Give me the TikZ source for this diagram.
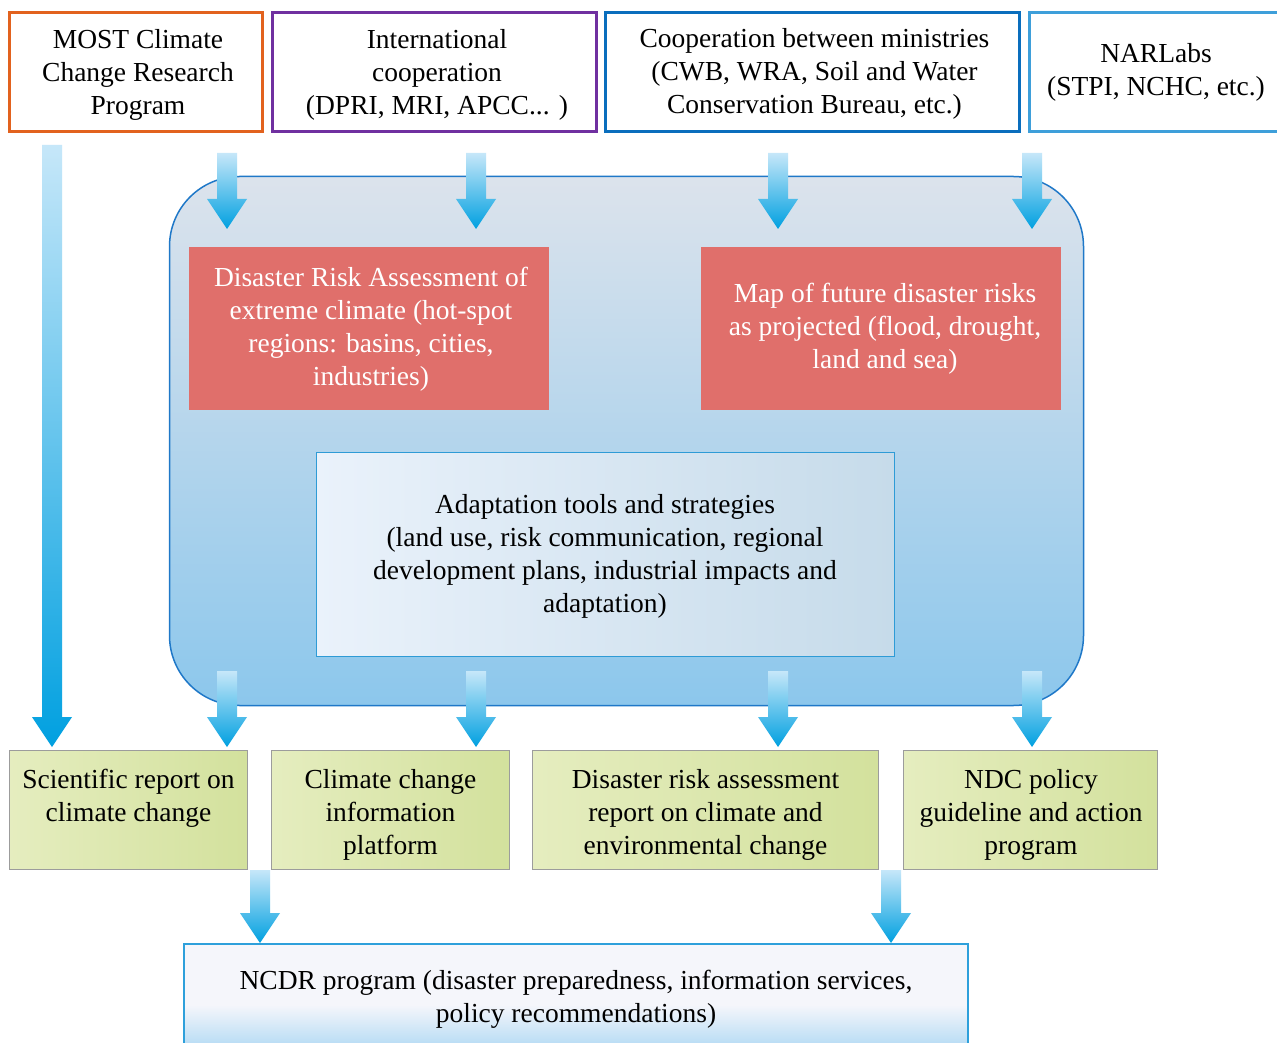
\documentclass[tikz,border=0pt]{standalone}
\usepackage{fontspec}
\setmainfont{Liberation Serif}
\usetikzlibrary{calc}

\definecolor{mostc}{HTML}{E2621E}
\definecolor{intlc}{HTML}{7030A0}
\definecolor{minc}{HTML}{0A6EBD}
\definecolor{narc}{HTML}{3E9FDA}
\definecolor{hubtop}{HTML}{DCE3EC}
\definecolor{hubmid}{HTML}{CADCEC}
\definecolor{hubbot}{HTML}{8CC7EC}
\definecolor{hubline}{HTML}{1F78C8}
\definecolor{riskfill}{HTML}{E06F6B}
\definecolor{adaptL}{HTML}{EAF2FB}
\definecolor{adaptR}{HTML}{C6DBEA}
\definecolor{adaptline}{HTML}{2E9BD6}
\definecolor{greenL}{HTML}{E5EDBF}
\definecolor{greenR}{HTML}{D3E19D}
\definecolor{greenline}{HTML}{9C9C9C}
\definecolor{ncdrtop}{HTML}{F5F6FB}
\definecolor{ncdrbot}{HTML}{B2DAF4}
\definecolor{ncdrline}{HTML}{2EA0DB}
\definecolor{arrlight}{HTML}{C6E7F9}
\definecolor{arrmid}{HTML}{A9DBF5}
\definecolor{arrdark}{HTML}{00A0E0}
\definecolor{longmid}{HTML}{72C3EE}

% pale top that turns blue only near the lower edge (25bp..75bp spans the node)
\pgfdeclareverticalshading{ncdrshade}{100bp}{color(0bp)=(ncdrbot); color(25bp)=(ncdrbot);
  color(46bp)=(ncdrtop); color(100bp)=(ncdrtop)}

% shaded block arrow from a start point down to a tip point
\newcommand\blockarrow[3][arrowfill]{%
  \shade[#1] let \p1=(#2), \p2=(#3) in
    (\x1-10pt,\y1) -- (\x1+10pt,\y1) -- (\x1+10pt,\y2+30pt) -- (\x1+20pt,\y2+30pt)
    -- (\x1,\y2) -- (\x1-20pt,\y2+30pt) -- (\x1-10pt,\y2+30pt) -- cycle;}

\tikzset{
  every node/.style={font=\fontsize{27.5}{33}\selectfont, align=center, inner sep=0pt},
  srcbox/.style={draw, line width=3pt, fill=white, minimum height=119pt},
  riskbox/.style={fill=riskfill, text=white, minimum width=360pt, minimum height=163pt},
  outbox/.style={draw=greenline, line width=1.5pt, left color=greenL, right color=greenR,
                 minimum height=119pt},
  arrowfill/.style={top color=arrlight, middle color=arrmid, bottom color=arrdark},
  longfill/.style={top color=arrlight, middle color=longmid, bottom color=arrdark},
}

\begin{document}
\begin{tikzpicture}[x=1pt, y=-1pt]
\useasboundingbox (0,0) rectangle (1277,1043);
\clip (0,0) rectangle (1277,1043);
\fill[white] (0,0) rectangle (1277,1043);

% sources
\node[srcbox, draw=mostc, minimum width=253pt] (most) at (136,72) {};
\node[srcbox, draw=intlc, minimum width=324pt] (intl) at (434.5,72) {};
\node[srcbox, draw=minc, minimum width=414pt] (mins) at (812.5,72) {};
\node[srcbox, draw=narc, minimum width=253pt] (nar) at (1156,72) {};
\node (mosttxt) at (138,74.5) {MOST Climate\\Change Research\\Program};
\node (intltxt) at (437,74.5) {International\\cooperation\\(DPRI, MRI, APCC... )};
\node (minstxt) at (814.5,73.5) {Cooperation between ministries\\(CWB, WRA, Soil and Water\\Conservation Bureau, etc.)};
\node (nartxt) at (1156,72.5) {NARLabs\\(STPI, NCHC, etc.)};

% central research block
\node[draw=hubline, line width=1.5pt, rounded corners=70pt,
      top color=hubtop, middle color=hubmid, bottom color=hubbot,
      minimum width=914pt, minimum height=529pt] (hub) at (626.5,441) {};
\node[riskbox] (riskA) at (369,328.5) {};
\node (riskAtxt) at (371,329.5) [text=white]
  {Disaster Risk Assessment of\\extreme climate (hot-spot\\regions: basins, cities,\\industries)};
\node[riskbox] (riskB) at (881,328.5) {};
\node (riskBtxt) at (885,329) [text=white]
  {Map of future disaster risks\\as projected (flood, drought,\\land and sea)};
\node[draw=adaptline, line width=1pt, left color=adaptL, right color=adaptR,
      minimum width=578pt, minimum height=204pt] (adapt) at (605,554) {};
\node (adapttxt) at (605,556)
  {Adaptation tools and strategies\\(land use, risk communication, regional\\development plans, industrial impacts and\\adaptation)};

% outputs
\node[outbox, minimum width=238pt] (report) at (128.5,810) {};
\node[outbox, minimum width=238pt] (platform) at (390.5,810) {};
\node[outbox, minimum width=346pt] (riskrep) at (705.5,810) {};
\node[outbox, minimum width=254pt] (ndc) at (1030.5,810) {};
\node (reporttxt) at (128.5,798) {Scientific report on\\climate change};
\node (platformtxt) at (390.5,814.5) {Climate change\\information\\platform};
\node (riskreptxt) at (705.5,814.5) {Disaster risk assessment\\report on climate and\\environmental change};
\node (ndctxt) at (1031,814.5) {NDC policy\\guideline and action\\program};

% NCDR program
\node[draw=ncdrline, line width=1.5pt, shading=ncdrshade,
      minimum width=784pt, minimum height=105pt] (ncdr) at (576,996.5) {};
\node (ncdrtxt) at (576,999.5)
  {NCDR program (disaster preparedness, information services,\\policy recommendations)};

% arrow end points
\coordinate (m0) at (52,145);   \coordinate (m1) at (52,747);
\coordinate (t1s) at (227,153); \coordinate (t1e) at (227,229);
\coordinate (t2s) at (476,153); \coordinate (t2e) at (476,229);
\coordinate (t3s) at (778,153); \coordinate (t3e) at (778,229);
\coordinate (t4s) at (1032,153); \coordinate (t4e) at (1032,229);
\coordinate (b1s) at (227,671); \coordinate (b1e) at (227,747);
\coordinate (b2s) at (476,671); \coordinate (b2e) at (476,747);
\coordinate (b3s) at (778,671); \coordinate (b3e) at (778,747);
\coordinate (b4s) at (1032,671); \coordinate (b4e) at (1032,747);
\coordinate (n1s) at (260,870); \coordinate (n1e) at (260,943);
\coordinate (n2s) at (891,870); \coordinate (n2e) at (891,943);

% arrows
\blockarrow[longfill]{m0}{m1}
\blockarrow{t1s}{t1e}
\blockarrow{t2s}{t2e}
\blockarrow{t3s}{t3e}
\blockarrow{t4s}{t4e}
\blockarrow{b1s}{b1e}
\blockarrow{b2s}{b2e}
\blockarrow{b3s}{b3e}
\blockarrow{b4s}{b4e}
\blockarrow{n1s}{n1e}
\blockarrow{n2s}{n2e}
\end{tikzpicture}
\end{document}
